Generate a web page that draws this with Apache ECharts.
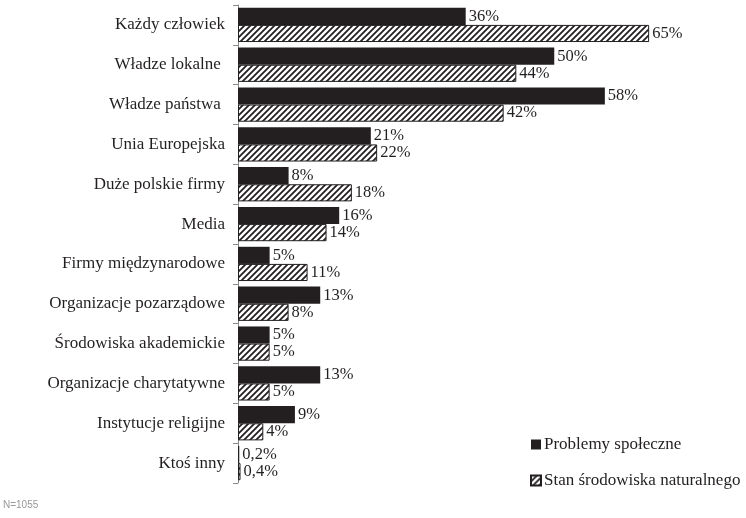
<!DOCTYPE html>
<html>
<head>
<meta charset="utf-8">
<script src="https://cdn.jsdelivr.net/npm/echarts@6/dist/echarts.min.js"></script>
<style>
    html, body { margin: 0; padding: 0; background: #fff; }
    #charts { width: 746px; height: 518px; }
</style>
</head>
<body>
<div id="charts"></div>
<script>
    var categories = ['Każdy człowiek', 'Władze lokalne ', 'Władze państwa ', 'Unia Europejska', 'Duże polskie firmy', 'Media',
        'Firmy międzynarodowe', 'Organizacje pozarządowe', 'Środowiska akademickie', 'Organizacje charytatywne',
        'Instytucje religijne', 'Ktoś inny'];
    var social = [36, 50, 58, 21, 8, 16, 5, 13, 5, 13, 9, 0.2];
    var nature = [65, 44, 42, 22, 18, 14, 11, 8, 5, 5, 4, 0.4];

    // hatch pattern for the second series
    var hatch = document.createElement('canvas');
    hatch.width = 6;
    hatch.height = 6;
    var ctx = hatch.getContext('2d');
    ctx.fillStyle = '#fff';
    ctx.fillRect(0, 0, 6, 6);
    ctx.strokeStyle = '#231f20';
    ctx.lineWidth = 1.8;
    ctx.beginPath();
    ctx.moveTo(-1, 7); ctx.lineTo(7, -1);
    ctx.moveTo(-4, 4); ctx.lineTo(4, -4);
    ctx.moveTo(2, 10); ctx.lineTo(10, 2);
    ctx.stroke();

    var serif = 'Liberation Serif';
    var fmt = function (p) { return String(p.value).replace('.', ',') + '%'; };

    var myCharts = echarts.init(document.getElementById('charts'));
    myCharts.setOption({
        animation: false,
        grid: { left: 238, right: 2, top: 5, bottom: 35 },
        graphic: [{
            type: 'text', left: 3, top: 500,
            style: { text: 'N=1055', fill: '#999', font: '10px Arial' }
        }],
        legend: {
            orient: 'vertical',
            left: 525,
            top: 431,
            itemWidth: 10,
            itemHeight: 10,
            itemGap: 19,
            icon: 'rect',
            textStyle: { fontFamily: serif, fontSize: 17, color: '#231f20', padding: [0, 0, 0, -2] }
        },
        xAxis: {
            type: 'value',
            min: 0,
            max: 80,
            show: false
        },
        yAxis: {
            type: 'category',
            inverse: true,
            data: categories,
            axisLine: { lineStyle: { color: '#8a8a8a', width: 1 } },
            axisTick: { show: true, length: 5, lineStyle: { color: '#8a8a8a' } },
            axisLabel: { fontFamily: serif, fontSize: 17, color: '#231f20', margin: 13 }
        },
        series: [
            {
                name: 'Problemy społeczne',
                type: 'bar',
                data: social,
                barGap: '0%',
                barCategoryGap: '14%',
                itemStyle: { color: '#231f20' },
                label: {
                    show: true, position: 'right', distance: 3,
                    fontFamily: serif, fontSize: 16.5, color: '#231f20',
                    formatter: fmt
                }
            },
            {
                name: 'Stan środowiska naturalnego',
                type: 'bar',
                data: nature,
                itemStyle: {
                    color: { image: hatch, repeat: 'repeat' },
                    borderColor: '#231f20',
                    borderWidth: 1
                },
                label: {
                    show: true, position: 'right', distance: 3,
                    fontFamily: serif, fontSize: 16.5, color: '#231f20',
                    formatter: fmt
                }
            }
        ]
    });
</script>
</body>
</html>
